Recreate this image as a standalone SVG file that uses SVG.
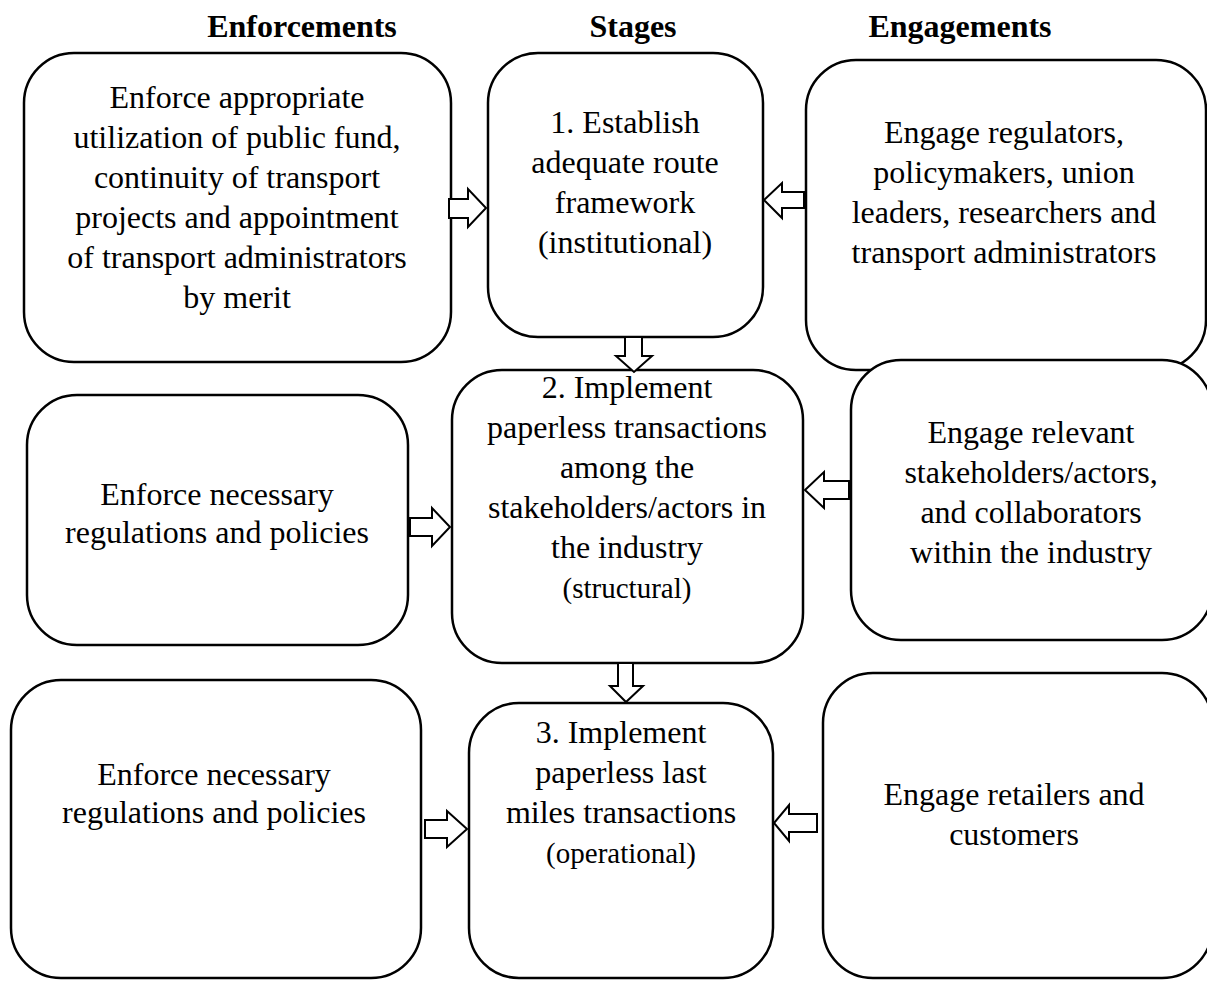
<svg xmlns="http://www.w3.org/2000/svg" width="1207" height="981" viewBox="0 0 1207 981">
<style>
.box{fill:#fff;stroke:#000;stroke-width:2.5}
.arr{fill:#fff;stroke:#000;stroke-width:2;stroke-linejoin:miter}
text{font-family:"Liberation Serif","Times New Roman",serif;font-size:32px;fill:#000;text-anchor:middle}
.hd{font-weight:bold}
.sm{font-size:29px}
</style>
<rect width="1207" height="981" fill="#fff"/>
<g id="headers">
<text class="hd" x="302" y="37">Enforcements</text>
<text class="hd" x="633" y="37">Stages</text>
<text class="hd" x="960" y="37">Engagements</text>
</g>
<g id="enf1">
<rect class="box" x="24" y="53" width="427" height="309" rx="50"/>
<text x="237" y="108">Enforce appropriate</text>
<text x="237" y="148">utilization of public fund,</text>
<text x="237" y="188">continuity of transport</text>
<text x="237" y="228">projects and appointment</text>
<text x="237" y="268">of transport administrators</text>
<text x="237" y="308">by merit</text>
</g>
<g id="stage1">
<rect class="box" x="488" y="53" width="275" height="284" rx="50"/>
<text x="625" y="133">1. Establish</text>
<text x="625" y="173">adequate route</text>
<text x="625" y="213">framework</text>
<text x="625" y="253">(institutional)</text>
</g>
<g id="eng1">
<rect class="box" x="806" y="60" width="400" height="310" rx="50"/>
<text x="1004" y="143">Engage regulators,</text>
<text x="1004" y="183">policymakers, union</text>
<text x="1004" y="223">leaders, researchers and</text>
<text x="1004" y="263">transport administrators</text>
</g>
<g id="enf2">
<rect class="box" x="27" y="395" width="381" height="250" rx="50"/>
<text x="217" y="505">Enforce necessary</text>
<text x="217" y="543">regulations and policies</text>
</g>
<g id="stage2">
<rect class="box" x="452" y="370" width="351" height="293" rx="50"/>
<text x="627" y="398">2. Implement</text>
<text x="627" y="438">paperless transactions</text>
<text x="627" y="478">among the</text>
<text x="627" y="518">stakeholders/actors in</text>
<text x="627" y="558">the industry</text>
<text x="627" y="598" class="sm">(structural)</text>
</g>
<g id="eng2">
<rect class="box" x="851" y="360" width="361" height="280" rx="50"/>
<text x="1031" y="443">Engage relevant</text>
<text x="1031" y="483">stakeholders/actors,</text>
<text x="1031" y="523">and collaborators</text>
<text x="1031" y="563">within the industry</text>
</g>
<g id="enf3">
<rect class="box" x="11" y="680" width="410" height="298" rx="50"/>
<text x="214" y="785">Enforce necessary</text>
<text x="214" y="823">regulations and policies</text>
</g>
<g id="stage3">
<rect class="box" x="469" y="703" width="304" height="275" rx="50"/>
<text x="621" y="743">3. Implement</text>
<text x="621" y="783">paperless last</text>
<text x="621" y="823">miles transactions</text>
<text x="621" y="863" class="sm">(operational)</text>
</g>
<g id="eng3">
<rect class="box" x="823" y="673" width="389" height="305" rx="50"/>
<text x="1014" y="805">Engage retailers and</text>
<text x="1014" y="845">customers</text>
</g>
<g id="connectors">
<polygon class="arr" points="449,199 468,199 468,189 486,208 468,227 468,218 449,218"/>
<polygon class="arr" points="804,192 782,192 782,183 764,200 782,218 782,208 804,208"/>
<polygon class="arr" points="625,337 642,337 642,356 652,356 634,372 616,356 625,356"/>
<polygon class="arr" points="618,663 633,663 633,686 643,686 626,702 610,686 618,686"/>
<polygon class="arr" points="410,518 432,518 432,508 450,527 432,546 432,536 410,536"/>
<polygon class="arr" points="849,481 824,481 824,472 805,490 824,508 824,499 849,499"/>
<polygon class="arr" points="425,820 447,820 447,811 467,829 447,847 447,838 425,838"/>
<polygon class="arr" points="817,814 789,814 789,805 774,823 789,841 789,832 817,832"/>
</g>
</svg>
